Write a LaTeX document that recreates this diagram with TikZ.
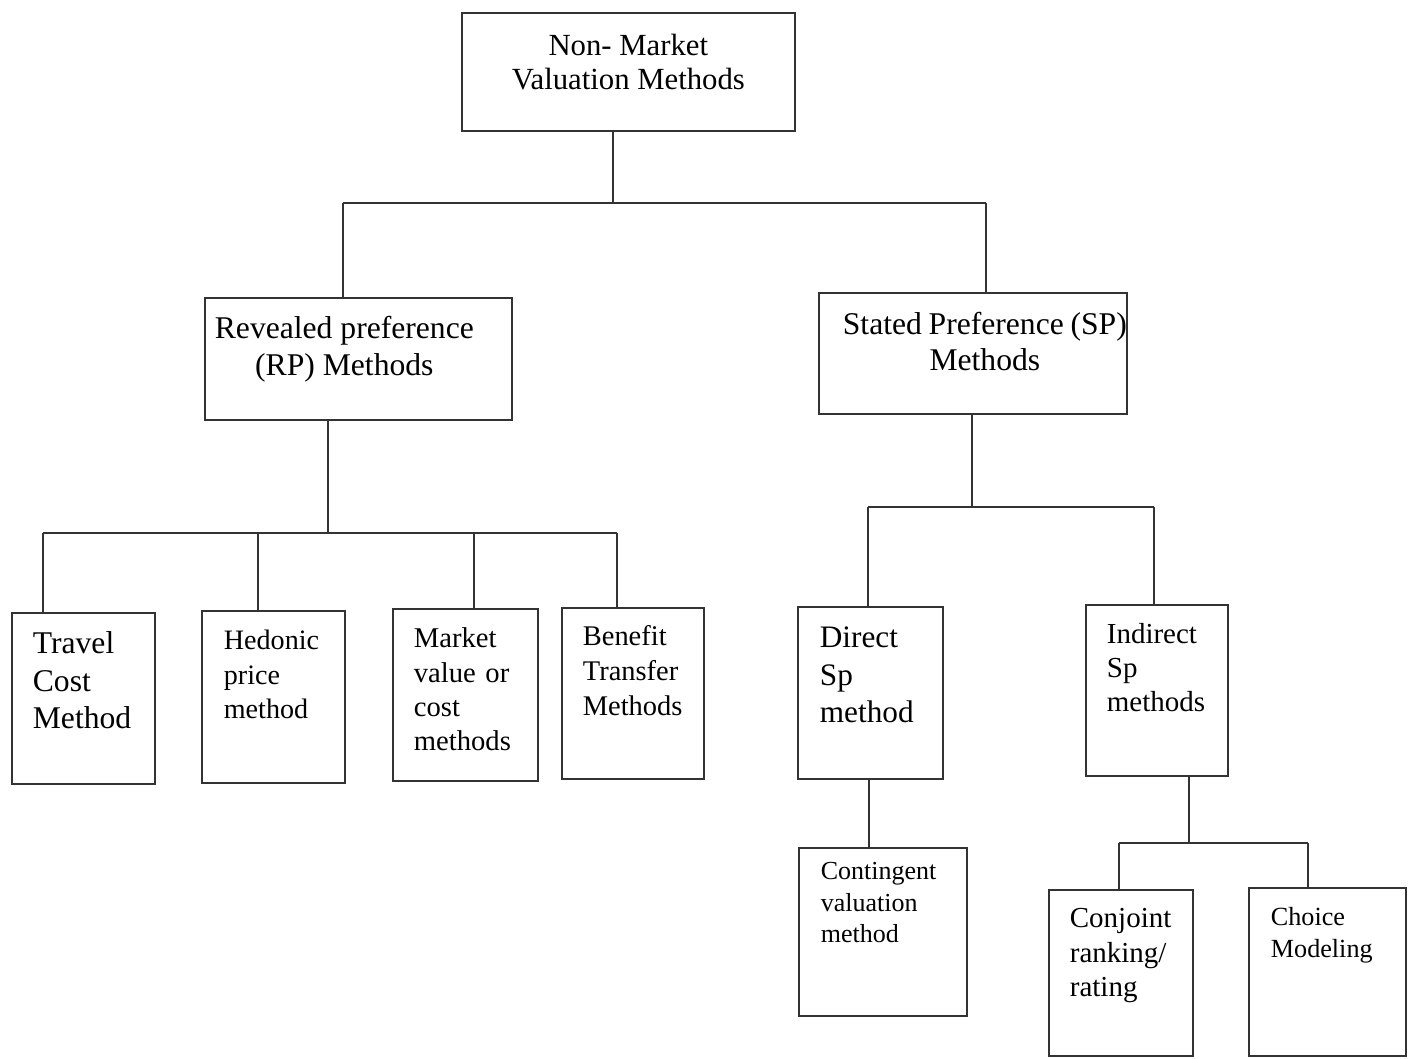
\documentclass[tikz,border=0pt]{standalone}
\usepackage{fontspec}
\setmainfont{Liberation Serif}
\usepackage{tikz}
\tikzset{>=latex}
\tikzstyle{bigbox} = [draw=black!80, line width=1pt, anchor=north west, align=flush center, inner xsep=0.1cm, inner ysep=0.1cm, font=\fontsize{18}{21}\selectfont]
\tikzstyle{leaf} = [draw=black!80, line width=1pt, anchor=north west, align=left, inner ysep=0.1cm]
\tikzstyle{link} = [-, draw=black!80, line width=1pt]

\begin{document}
\begin{tikzpicture}[x=0.02cm, y=-0.02cm]
\useasboundingbox (0,0) rectangle (1409,1058);
%\node at (700,-20) {Non-market valuation};
\node [bigbox, text width=6.46cm, text height=0.76cm, text depth=1.4cm, font=\fontsize{17.5}{19}\selectfont] (top) at (461, 12) {Non- Market\\Valuation Methods};
\node [bigbox, text width=5.94cm, text height=0.72cm, text depth=1.52cm] (rp) at (204, 297) {\hspace*{-0.56cm}Revealed preference\\\hspace*{-0.56cm}(RP) Methods};
\node [bigbox, inner xsep=0pt, text width=6.16cm, text height=0.74cm, text depth=1.48cm, font=\fontsize{18}{20.5}\selectfont] (sp) at (818, 292) {\hspace*{0.48cm}Stated~Preference~(SP)\\\hspace*{0.48cm}Methods};
% revealed preference leaves
\node [leaf, inner xsep=0.42cm, text width=2.02cm, text height=0.72cm, text depth=2.5cm, font=\fontsize{18}{21.3}\selectfont] (tc) at (11, 612) {Travel\\Cost\\Method};
\node [leaf, inner xsep=0.44cm, text width=1.98cm, text height=0.68cm, text depth=2.56cm, font=\fontsize{16}{19.5}\selectfont] (hp) at (201, 610) {Hedonic\\price\\method};
\node [leaf, inner xsep=0.42cm, text width=2.06cm, text height=0.68cm, text depth=2.56cm, font=\fontsize{16.3}{19.5}\selectfont] (mv) at (392, 608) {Market\\value or\\cost\\methods};
\node [leaf, inner xsep=0.42cm, text width=2.0cm, text height=0.66cm, text depth=2.56cm, font=\fontsize{16.2}{19.8}\selectfont] (bt) at (561, 607) {Benefit\\Transfer\\Methods};
% stated preference leaves
\node [leaf, inner xsep=0.44cm, text width=2.02cm, text height=0.72cm, text depth=2.52cm, font=\fontsize{17.8}{21.3}\selectfont] (ds) at (797, 606) {Direct\\Sp\\method};
\node [leaf, inner xsep=0.42cm, text width=2.0cm, text height=0.68cm, text depth=2.54cm, font=\fontsize{16.5}{19.3}\selectfont] (is) at (1085, 604) {Indirect\\Sp\\methods};
\node [leaf, inner xsep=0.44cm, text width=2.48cm, text height=0.54cm, text depth=2.62cm, font=\fontsize{14.8}{17.8}\selectfont] (cv) at (798, 847) {Contingent\\valuation\\method};
\node [leaf, inner xsep=0.42cm, text width=2.04cm, text height=0.66cm, text depth=2.46cm, font=\fontsize{16.5}{19.5}\selectfont] (cj) at (1048, 889) {Conjoint\\ranking/\\rating};
\node [leaf, inner xsep=0.44cm, text width=2.26cm, text height=0.66cm, text depth=2.5cm, font=\fontsize{14.9}{17.8}\selectfont] (cm) at (1248, 887) {Choice\\Modeling};
% first level
\coordinate (j1) at (613, 203);
\coordinate (b1l) at (343, 203);
\coordinate (b1r) at (986, 203);
\draw [link] (top.south -| j1) to (j1);
\draw [link] (b1l) to (b1r);
\draw [link] (b1l) to (b1l |- rp.north);
\draw [link] (b1r) to (b1r |- sp.north);
% RP branch
\coordinate (j2) at (328, 533);
\coordinate (d1) at (43, 533);
\coordinate (d2) at (258, 533);
\coordinate (d3) at (474, 533);
\coordinate (d4) at (617, 533);
\draw [link] (rp.south -| j2) to (j2);
\draw [link] (d1) to (d4);
\draw [link] (d1) to (d1 |- tc.north);
\draw [link] (d2) to (d2 |- hp.north);
\draw [link] (d3) to (d3 |- mv.north);
\draw [link] (d4) to (d4 |- bt.north);
% SP branch
\coordinate (j3) at (972, 507);
\coordinate (d5) at (868, 507);
\coordinate (d6) at (1154, 507);
\draw [link] (sp.south -| j3) to (j3);
\draw [link] (d5) to (d6);
\draw [link] (d5) to (d5 |- ds.north);
\draw [link] (d6) to (d6 |- is.north);
\coordinate (j4) at (869, 800);
\draw [link] (ds.south -| j4) to (cv.north -| j4);
\coordinate (j5) at (1189, 843);
\coordinate (d7) at (1119, 843);
\coordinate (d8) at (1308, 843);
\draw [link] (is.south -| j5) to (j5);
\draw [link] (d7) to (d8);
\draw [link] (d7) to (d7 |- cj.north);
\draw [link] (d8) to (d8 |- cm.north);
\end{tikzpicture}
\end{document}
